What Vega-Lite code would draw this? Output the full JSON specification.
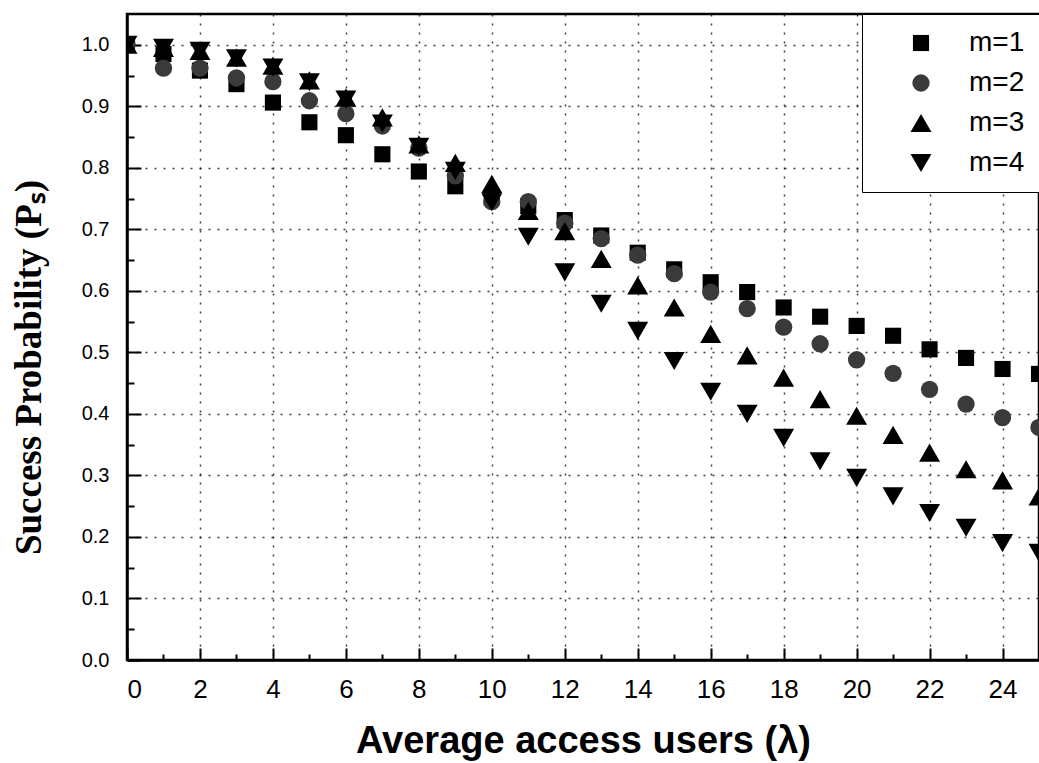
{
  "$schema": "https://vega.github.io/schema/vega-lite/v6.json",
  "width": 912,
  "height": 646,
  "autosize": {"type": "none"},
  "padding": {"left": 127, "top": 14, "right": 0, "bottom": 103},
  "background": "white",
  "config": {
    "view": {"stroke": "black", "strokeWidth": 2.5},
    "axis": {
      "domainColor": "black",
      "domainWidth": 2.5,
      "tickColor": "black",
      "tickWidth": 2,
      "labelColor": "black",
      "labelFont": "Liberation Sans",
      "labelFontSize": 21,
      "gridColor": "black",
      "gridDash": [2, 7],
      "gridWidth": 1.5,
      "titleColor": "black"
    },
    "legend": {
      "orient": "none",
      "legendX": 735,
      "legendY": 0,
      "padding": 15,
      "strokeColor": "black",
      "fillColor": "white",
      "labelFont": "Liberation Sans",
      "labelFontSize": 28,
      "labelColor": "black",
      "labelOffset": 34,
      "symbolOffset": 30,
      "rowPadding": 12,
      "symbolStrokeWidth": 0
    }
  },
  "data": {
    "values": [
      {"lambda": 0, "ps": 1.0, "series": "m=1"},
      {"lambda": 1, "ps": 0.985, "series": "m=1"},
      {"lambda": 2, "ps": 0.958, "series": "m=1"},
      {"lambda": 3, "ps": 0.936, "series": "m=1"},
      {"lambda": 4, "ps": 0.906, "series": "m=1"},
      {"lambda": 5, "ps": 0.874, "series": "m=1"},
      {"lambda": 6, "ps": 0.853, "series": "m=1"},
      {"lambda": 7, "ps": 0.822, "series": "m=1"},
      {"lambda": 8, "ps": 0.794, "series": "m=1"},
      {"lambda": 9, "ps": 0.77, "series": "m=1"},
      {"lambda": 10, "ps": 0.752, "series": "m=1"},
      {"lambda": 11, "ps": 0.738, "series": "m=1"},
      {"lambda": 12, "ps": 0.715, "series": "m=1"},
      {"lambda": 13, "ps": 0.69, "series": "m=1"},
      {"lambda": 14, "ps": 0.662, "series": "m=1"},
      {"lambda": 15, "ps": 0.635, "series": "m=1"},
      {"lambda": 16, "ps": 0.614, "series": "m=1"},
      {"lambda": 17, "ps": 0.598, "series": "m=1"},
      {"lambda": 18, "ps": 0.573, "series": "m=1"},
      {"lambda": 19, "ps": 0.558, "series": "m=1"},
      {"lambda": 20, "ps": 0.543, "series": "m=1"},
      {"lambda": 21, "ps": 0.527, "series": "m=1"},
      {"lambda": 22, "ps": 0.505, "series": "m=1"},
      {"lambda": 23, "ps": 0.491, "series": "m=1"},
      {"lambda": 24, "ps": 0.473, "series": "m=1"},
      {"lambda": 25, "ps": 0.465, "series": "m=1"},
      {"lambda": 0, "ps": 1.0, "series": "m=2"},
      {"lambda": 1, "ps": 0.962, "series": "m=2"},
      {"lambda": 2, "ps": 0.962, "series": "m=2"},
      {"lambda": 3, "ps": 0.946, "series": "m=2"},
      {"lambda": 4, "ps": 0.94, "series": "m=2"},
      {"lambda": 5, "ps": 0.909, "series": "m=2"},
      {"lambda": 6, "ps": 0.888, "series": "m=2"},
      {"lambda": 7, "ps": 0.868, "series": "m=2"},
      {"lambda": 8, "ps": 0.832, "series": "m=2"},
      {"lambda": 9, "ps": 0.787, "series": "m=2"},
      {"lambda": 10, "ps": 0.745, "series": "m=2"},
      {"lambda": 11, "ps": 0.745, "series": "m=2"},
      {"lambda": 12, "ps": 0.71, "series": "m=2"},
      {"lambda": 13, "ps": 0.685, "series": "m=2"},
      {"lambda": 14, "ps": 0.658, "series": "m=2"},
      {"lambda": 15, "ps": 0.628, "series": "m=2"},
      {"lambda": 16, "ps": 0.598, "series": "m=2"},
      {"lambda": 17, "ps": 0.571, "series": "m=2"},
      {"lambda": 18, "ps": 0.541, "series": "m=2"},
      {"lambda": 19, "ps": 0.514, "series": "m=2"},
      {"lambda": 20, "ps": 0.488, "series": "m=2"},
      {"lambda": 21, "ps": 0.466, "series": "m=2"},
      {"lambda": 22, "ps": 0.44, "series": "m=2"},
      {"lambda": 23, "ps": 0.416, "series": "m=2"},
      {"lambda": 24, "ps": 0.394, "series": "m=2"},
      {"lambda": 25, "ps": 0.378, "series": "m=2"},
      {"lambda": 0, "ps": 1.0, "series": "m=3"},
      {"lambda": 1, "ps": 0.995, "series": "m=3"},
      {"lambda": 2, "ps": 0.99, "series": "m=3"},
      {"lambda": 3, "ps": 0.979, "series": "m=3"},
      {"lambda": 4, "ps": 0.966, "series": "m=3"},
      {"lambda": 5, "ps": 0.942, "series": "m=3"},
      {"lambda": 6, "ps": 0.914, "series": "m=3"},
      {"lambda": 7, "ps": 0.882, "series": "m=3"},
      {"lambda": 8, "ps": 0.838, "series": "m=3"},
      {"lambda": 9, "ps": 0.808, "series": "m=3"},
      {"lambda": 10, "ps": 0.774, "series": "m=3"},
      {"lambda": 11, "ps": 0.73, "series": "m=3"},
      {"lambda": 12, "ps": 0.697, "series": "m=3"},
      {"lambda": 13, "ps": 0.652, "series": "m=3"},
      {"lambda": 14, "ps": 0.609, "series": "m=3"},
      {"lambda": 15, "ps": 0.573, "series": "m=3"},
      {"lambda": 16, "ps": 0.53, "series": "m=3"},
      {"lambda": 17, "ps": 0.495, "series": "m=3"},
      {"lambda": 18, "ps": 0.459, "series": "m=3"},
      {"lambda": 19, "ps": 0.424, "series": "m=3"},
      {"lambda": 20, "ps": 0.397, "series": "m=3"},
      {"lambda": 21, "ps": 0.366, "series": "m=3"},
      {"lambda": 22, "ps": 0.337, "series": "m=3"},
      {"lambda": 23, "ps": 0.31, "series": "m=3"},
      {"lambda": 24, "ps": 0.292, "series": "m=3"},
      {"lambda": 25, "ps": 0.266, "series": "m=3"},
      {"lambda": 0, "ps": 1.0, "series": "m=4"},
      {"lambda": 1, "ps": 0.995, "series": "m=4"},
      {"lambda": 2, "ps": 0.99, "series": "m=4"},
      {"lambda": 3, "ps": 0.978, "series": "m=4"},
      {"lambda": 4, "ps": 0.963, "series": "m=4"},
      {"lambda": 5, "ps": 0.939, "series": "m=4"},
      {"lambda": 6, "ps": 0.911, "series": "m=4"},
      {"lambda": 7, "ps": 0.872, "series": "m=4"},
      {"lambda": 8, "ps": 0.834, "series": "m=4"},
      {"lambda": 9, "ps": 0.795, "series": "m=4"},
      {"lambda": 10, "ps": 0.744, "series": "m=4"},
      {"lambda": 11, "ps": 0.688, "series": "m=4"},
      {"lambda": 12, "ps": 0.63, "series": "m=4"},
      {"lambda": 13, "ps": 0.579, "series": "m=4"},
      {"lambda": 14, "ps": 0.535, "series": "m=4"},
      {"lambda": 15, "ps": 0.486, "series": "m=4"},
      {"lambda": 16, "ps": 0.436, "series": "m=4"},
      {"lambda": 17, "ps": 0.4, "series": "m=4"},
      {"lambda": 18, "ps": 0.361, "series": "m=4"},
      {"lambda": 19, "ps": 0.323, "series": "m=4"},
      {"lambda": 20, "ps": 0.296, "series": "m=4"},
      {"lambda": 21, "ps": 0.266, "series": "m=4"},
      {"lambda": 22, "ps": 0.239, "series": "m=4"},
      {"lambda": 23, "ps": 0.215, "series": "m=4"},
      {"lambda": 24, "ps": 0.19, "series": "m=4"},
      {"lambda": 25, "ps": 0.174, "series": "m=4"}
    ]
  },
  "mark": {"type": "point", "filled": true, "opacity": 1, "clip": true},
  "encoding": {
    "x": {
      "field": "lambda",
      "type": "quantitative",
      "scale": {"domain": [0, 25], "nice": false, "zero": false},
      "axis": {
        "values": [0,1,2,3,4,5,6,7,8,9,10,11,12,13,14,15,16,17,18,19,20,21,22,23,24,25],
        "labelExpr": "datum.value % 2 == 0 && datum.value < 25 ? datum.label : ''",
        "format": "d",
        "labelFontSize": 26,
        "tickSize": {"condition": {"test": "datum.value % 2 == 0", "value": -12}, "value": -6},
        "labelPadding": 28,
        "gridOpacity": {"condition": {"test": "datum.value % 2 == 0", "value": 0.75}, "value": 0},
        "title": "Average access users (λ)",
        "titleFont": "Liberation Sans",
        "titleFontSize": 38,
        "titleFontWeight": "bold",
        "titlePadding": 20
      }
    },
    "y": {
      "field": "ps",
      "type": "quantitative",
      "scale": {"domain": [0, 1.05], "nice": false, "zero": false},
      "axis": {
        "values": [0,0.05,0.1,0.15,0.2,0.25,0.3,0.35,0.4,0.45,0.5,0.55,0.6,0.65,0.7,0.75,0.8,0.85,0.9,0.95,1.0],
        "labelExpr": "abs(datum.value*10 - round(datum.value*10)) < 0.01 ? format(datum.value, '.1f') : ''",
        "labelFontSize": 20,
        "tickSize": {"condition": {"test": "abs(datum.value*10 - round(datum.value*10)) < 0.01", "value": -14}, "value": -7},
        "labelPadding": 32,
        "gridOpacity": {"condition": {"test": "abs(datum.value*10 - round(datum.value*10)) < 0.01", "value": 0.75}, "value": 0},
        "title": "Success Probability (Pₛ)",
        "titleFont": "Liberation Serif",
        "titleFontSize": 37,
        "titleFontWeight": "bold",
        "titleAngle": -90,
        "titleBaseline": "middle",
        "titleAlign": "center",
        "titleX": -98,
        "titleY": 353
      }
    },
    "shape": {
      "field": "series",
      "type": "nominal",
      "scale": {"domain": ["m=1", "m=2", "m=3", "m=4"], "range": ["square", "circle", "triangle-up", "triangle-down"]},
      "legend": {"title": null}
    },
    "color": {
      "field": "series",
      "type": "nominal",
      "scale": {"domain": ["m=1", "m=2", "m=3", "m=4"], "range": ["#000000", "#3a3a3a", "#000000", "#000000"]},
      "legend": {"title": null}
    },
    "size": {
      "field": "series",
      "type": "nominal",
      "scale": {"type": "ordinal", "domain": ["m=1", "m=2", "m=3", "m=4"], "range": [260, 300, 440, 440]},
      "legend": {"title": null}
    }
  }
}
